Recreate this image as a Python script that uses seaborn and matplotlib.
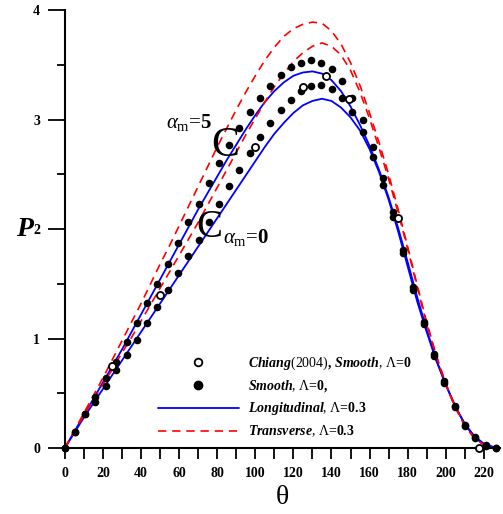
import numpy as np
import pandas as pd
import matplotlib
matplotlib.use("Agg")
import matplotlib.pyplot as plt
from matplotlib.lines import Line2D
from matplotlib.ticker import MultipleLocator
import seaborn as sns

# ---------------- data ----------------
theta_line = [0, 5, 10, 15, 20, 25, 30, 35, 40, 45, 50, 55, 60, 65, 70, 75, 80, 85, 90, 95,
              100, 105, 110, 115, 120, 125, 130, 135, 140, 145, 150, 155, 160, 165, 170, 175,
              180, 185, 190, 195, 200, 205, 210, 215, 220, 225, 227]

long_a5 = [0, 0.15, 0.30, 0.45, 0.60, 0.75, 0.90, 1.06, 1.22, 1.38, 1.54, 1.70, 1.86, 2.02, 2.18, 2.33,
           2.48, 2.63, 2.77, 2.91, 3.04, 3.16, 3.26, 3.34, 3.40, 3.43, 3.44, 3.42, 3.36, 3.26, 3.12,
           2.95, 2.76, 2.54, 2.29, 2.01, 1.70, 1.38, 1.08, 0.81, 0.58, 0.38, 0.22, 0.11, 0.04, 0.01, 0]
long_a0 = [0, 0.14, 0.28, 0.41, 0.54, 0.67, 0.80, 0.93, 1.06, 1.19, 1.32, 1.45, 1.58, 1.71, 1.84, 1.97,
           2.10, 2.23, 2.36, 2.49, 2.62, 2.75, 2.87, 2.97, 3.06, 3.13, 3.17, 3.19, 3.17, 3.11, 3.02,
           2.90, 2.73, 2.52, 2.27, 1.98, 1.66, 1.34, 1.06, 0.80, 0.58, 0.38, 0.22, 0.10, 0.03, 0.005, 0]
trans_a5 = [0, 0.16, 0.32, 0.48, 0.64, 0.81, 0.98, 1.15, 1.32, 1.50, 1.68, 1.85, 2.03, 2.21, 2.39, 2.57,
            2.75, 2.92, 3.09, 3.25, 3.40, 3.54, 3.66, 3.76, 3.83, 3.87, 3.89, 3.88, 3.81, 3.69, 3.52,
            3.31, 3.06, 2.79, 2.50, 2.18, 1.84, 1.49, 1.15, 0.85, 0.59, 0.38, 0.21, 0.09, 0.03, 0.0, 0]
trans_a0 = [0, 0.15, 0.30, 0.44, 0.58, 0.72, 0.87, 1.01, 1.16, 1.31, 1.46, 1.61, 1.76, 1.91, 2.06, 2.22,
            2.38, 2.54, 2.70, 2.86, 3.01, 3.16, 3.30, 3.42, 3.53, 3.61, 3.67, 3.70, 3.67, 3.59, 3.45,
            3.25, 3.01, 2.74, 2.46, 2.15, 1.82, 1.47, 1.13, 0.84, 0.58, 0.37, 0.20, 0.09, 0.03, 0.0, 0]

theta_dots = [0, 5.3, 10.7, 15.9, 21.5, 27.1, 32.6, 37.8, 43.2, 48.5, 53.9, 59.3, 64.8, 70.2, 75.5,
              80.7, 86.2, 91.6, 97.0, 102.5, 107.9, 113.3, 118.8, 124.0, 129.4, 134.7, 140.2, 145.6,
              151.0, 156.4, 161.6, 167.3, 172.5, 177.8, 183.0, 188.6, 194.0, 199.3, 205.0, 210.3,
              215.6, 221.2, 226.5]
smooth_a5 = [0, 0.15, 0.31, 0.47, 0.64, 0.79, 0.97, 1.14, 1.32, 1.50, 1.68, 1.87, 2.06, 2.23, 2.42,
             2.60, 2.77, 2.92, 3.07, 3.20, 3.31, 3.41, 3.48, 3.52, 3.54, 3.52, 3.46, 3.35, 3.20,
             3.00, 2.75, 2.47, 2.16, 1.81, 1.47, 1.15, 0.86, 0.61, 0.38, 0.21, 0.10, 0.03, 0.0]
smooth_a0 = [0, 0.15, 0.31, 0.42, 0.57, 0.71, 0.85, 0.99, 1.14, 1.29, 1.44, 1.60, 1.75, 1.90, 2.06,
             2.23, 2.39, 2.54, 2.69, 2.84, 2.97, 3.09, 3.18, 3.26, 3.31, 3.32, 3.28, 3.20, 3.07,
             2.89, 2.66, 2.40, 2.11, 1.78, 1.44, 1.13, 0.84, 0.59, 0.37, 0.20, 0.09, 0.02, 0.0]

theta_chiang = [25.0, 49.9, 99.8, 124.9, 137.0, 149.4, 174.8, 217.3]
p_chiang = [0.75, 1.40, 2.75, 3.30, 3.40, 3.19, 2.10, 0.0]

x_ticks = [0, 20, 40, 60, 80, 100, 120, 140, 160, 180, 200, 220]
y_ticks = [0, 1, 2, 3, 4]

legend_labels = [
    r"$\mathbfit{Chiang}$(2004)$\mathbf{,}$ $\mathbfit{Smooth}$, Λ=$\mathbf{0}$",
    r"$\mathbfit{Smooth}$, Λ=$\mathbf{0,}$",
    r"$\mathbfit{Longitudinal}$, Λ=$\mathbf{0.3}$",
    r"$\mathbfit{Transverse}$, Λ=$\mathbf{0.3}$",
]

# ---------------- style ----------------
sns.set_style("ticks")
plt.rcParams["font.family"] = ["Liberation Serif", "DejaVu Serif"]
plt.rcParams["mathtext.fontset"] = "custom"
plt.rcParams["mathtext.rm"] = "Liberation Serif"
plt.rcParams["mathtext.it"] = "Liberation Serif:italic"
plt.rcParams["mathtext.bf"] = "Liberation Serif:bold"
plt.rcParams["mathtext.bfit"] = "Liberation Serif:italic:bold"
plt.rcParams["text.color"] = "black"
plt.rcParams["axes.labelcolor"] = "black"
plt.rcParams["xtick.color"] = "black"
plt.rcParams["ytick.color"] = "black"

lines_df = pd.DataFrame({
    "theta": theta_line * 4,
    "P": long_a5 + long_a0 + trans_a5 + trans_a0,
    "curve": ["L5"] * len(theta_line) + ["L0"] * len(theta_line)
             + ["T5"] * len(theta_line) + ["T0"] * len(theta_line),
})
dots_df = pd.DataFrame({
    "theta": theta_dots * 2,
    "P": smooth_a5 + smooth_a0,
})
chiang_df = pd.DataFrame({"theta": theta_chiang, "P": p_chiang})

fig = plt.figure(figsize=(5.03, 5.14), dpi=100)
ax = fig.add_axes([0.129, 0.1284, 0.865, 0.852])

blue = "#0000ff"
red = "#ff0000"
dash = (0, (5, 3.5))
for key in ["L5", "L0"]:
    sns.lineplot(data=lines_df[lines_df.curve == key], x="theta", y="P", ax=ax,
                 color=blue, linewidth=1.3, estimator=None, sort=False, clip_on=False)
for key in ["T5", "T0"]:
    sns.lineplot(data=lines_df[lines_df.curve == key], x="theta", y="P", ax=ax,
                 color=red, linewidth=1.2, estimator=None, sort=False, clip_on=False,
                 linestyle=dash)

sns.scatterplot(data=dots_df, x="theta", y="P", ax=ax, color="black", s=30,
                edgecolor="black", linewidth=0, zorder=5, clip_on=False)
sns.scatterplot(data=chiang_df, x="theta", y="P", ax=ax, facecolor="white", s=26,
                edgecolor="black", linewidth=1.3, zorder=6, clip_on=False)

ax.set_xlim(0, 228.5)
ax.set_ylim(0, 4)
ax.set_xticks(x_ticks)
ax.set_yticks(y_ticks)
ax.xaxis.set_minor_locator(MultipleLocator(10))
ax.yaxis.set_minor_locator(MultipleLocator(0.5))
sns.despine(ax=ax)
for s in ["left", "bottom"]:
    ax.spines[s].set_linewidth(1.5)
    ax.spines[s].set_color("black")
ax.tick_params(axis="x", which="major", length=8, width=1.3, direction="out", pad=6,
               labelsize=10, colors="black")
ax.tick_params(axis="x", which="minor", length=8, width=1.3, direction="out")
ax.tick_params(axis="y", which="major", length=12, width=1.3, direction="out", pad=6,
               labelsize=10, colors="black")
ax.tick_params(axis="y", which="minor", length=6, width=1.3, direction="out")
for lab in ax.get_xticklabels() + ax.get_yticklabels():
    lab.set_fontweight("bold")

ax.set_xlabel("θ", fontsize=20)
ax.set_ylabel("P", fontsize=20, fontweight="bold", fontstyle="italic", rotation=0)
ax.xaxis.set_label_coords(0.5, -0.085)
ax.yaxis.set_label_coords(-0.092, 0.5)
ax.yaxis.label.set_verticalalignment("center")

# annotations
ax.text(53.0, 2.97, r"$\alpha_{\rm m}$=$\mathbf{5}$", fontsize=15, ha="left", va="center")
ax.text(84.3, 2.76, "C", fontsize=30, ha="center", va="center", color="black")
ax.text(76.0, 2.01, "C", fontsize=28, ha="center", va="center", color="black")
ax.text(83.0, 1.92, r"$\alpha_{\rm m}$=$\mathbf{0}$", fontsize=15, ha="left", va="center")

handles = [
    Line2D([], [], linestyle="none", marker="o", markersize=5.5, markerfacecolor="white",
           markeredgecolor="black", markeredgewidth=1.3),
    Line2D([], [], linestyle="none", marker="o", markersize=6, markerfacecolor="black",
           markeredgecolor="black"),
    Line2D([], [], color=blue, linewidth=1.3),
    Line2D([], [], color=red, linewidth=1.2, linestyle=dash),
]
ax.legend(handles, legend_labels, loc="lower left", bbox_to_anchor=(0.214, 0.02),
          frameon=False, fontsize=10, handlelength=5.8, handletextpad=0.65,
          labelspacing=0.45, borderpad=0, borderaxespad=0)

fig.savefig("out.png", dpi=100)
